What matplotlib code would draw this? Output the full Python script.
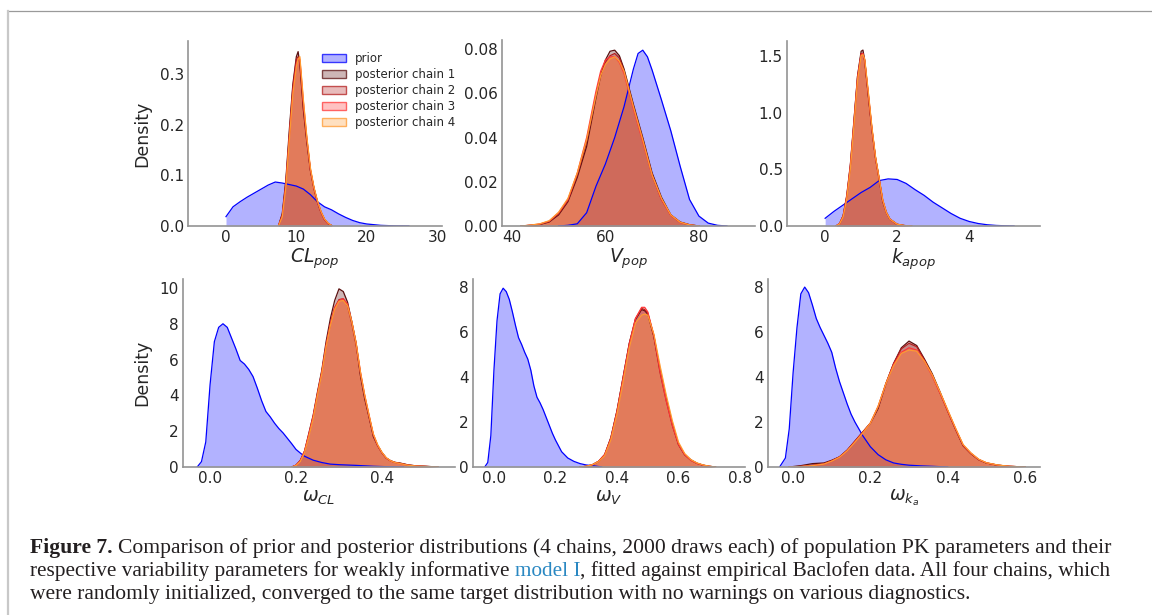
import numpy as np
import matplotlib
matplotlib.use('Agg')
import matplotlib.pyplot as plt
from matplotlib.patches import Patch
from matplotlib.lines import Line2D

W, H = 1152, 615

# --- values (density curves) ---
# CL_pop
cl_prior_x = [0, 1, 2, 3, 4, 5, 6, 7, 8, 9, 10, 11, 12, 13, 14, 15, 16, 17, 18, 19, 20, 22, 24, 26]
cl_prior_y = [.0185, .038, .048, .057, .065, .073, .081, .087, .085, .082, .079, .073, .062, .048,
              .038, .032, .024, .017, .011, .0066, .004, .0013, .0003, 0]
cl_post_x = [7.5, 8, 8.5, 9, 9.5, 10, 10.25, 10.5, 11, 11.5, 12, 12.5, 13, 13.5, 14, 14.5, 15]
cl_ch1 = [.002, .025, .09, .19, .28, .335, .345, .32, .23, .165, .11, .075, .048, .028, .013, .005, .001]
cl_ch2 = [.002, .022, .085, .18, .275, .33, .335, .325, .235, .17, .11, .074, .047, .027, .013, .005, .001]
cl_ch3 = [.002, .02, .08, .175, .265, .32, .33, .33, .245, .172, .112, .075, .048, .028, .013, .005, .001]
cl_ch4 = [.001, .018, .075, .17, .26, .315, .33, .335, .25, .175, .115, .077, .05, .029, .014, .006, .001]

# V_pop
v_prior_x = [50, 52, 54, 56, 58, 60, 62, 64, 66, 67, 68, 69, 70, 72, 74, 76, 78, 80, 82, 84, 86]
v_prior_y = [0, .0003, .001, .006, .018, .028, .040, .054, .071, .078, .0795, .0765, .0705, .057,
             .043, .027, .012, .0045, .0013, .0003, 0]
v_post_x = [42, 44, 46, 48, 50, 52, 54, 56, 58, 59, 60, 61, 62, 63, 64, 65, 66, 68, 70, 72, 74, 76, 78, 80]
v_ch1 = [0, .0003, .0007, .0018, .005, .011, .022, .036, .058, .068, .075, .079, .0795, .077, .071,
         .063, .055, .040, .024, .013, .005, .0018, .0006, 0]
v_ch2 = [0, .0003, .0008, .002, .0055, .0115, .023, .038, .059, .068, .074, .077, .078, .076, .070,
         .062, .054, .039, .023, .012, .005, .0017, .0005, 0]
v_ch3 = [0, .0004, .0009, .0022, .006, .012, .024, .040, .061, .070, .075, .0765, .0765, .074, .069,
         .061, .053, .038, .023, .012, .0048, .0016, .0005, 0]
v_ch4 = [0, .0004, .001, .0024, .0062, .0125, .024, .039, .059, .068, .073, .0755, .0765, .0745, .070,
         .062, .054, .039, .023, .0125, .005, .0017, .0005, 0]

# k_a_pop
ka_prior_x = [0, .25, .5, .75, 1, 1.25, 1.5, 1.75, 2, 2.25, 2.5, 2.75, 3, 3.25, 3.5, 3.75, 4, 4.25,
              4.5, 4.75, 5, 5.25]
ka_prior_y = [.068, .13, .185, .24, .295, .34, .40, .415, .41, .375, .32, .27, .21, .16, .11, .068,
              .04, .022, .011, .005, .002, 0]
ka_post_x = [.3, .4, .5, .6, .7, .8, .9, 1.0, 1.05, 1.1, 1.2, 1.3, 1.4, 1.5, 1.6, 1.7, 1.8, 2.0, 2.2, 2.4]
ka_ch1 = [0, .02, .09, .26, .53, .92, 1.32, 1.54, 1.55, 1.46, 1.15, .85, .6, .42, .22, .12, .06, .015, .004, 0]
ka_ch2 = [0, .02, .09, .27, .54, .93, 1.32, 1.52, 1.52, 1.45, 1.15, .85, .6, .41, .22, .12, .06, .015, .004, 0]
ka_ch3 = [0, .02, .085, .25, .52, .9, 1.3, 1.51, 1.52, 1.46, 1.17, .86, .6, .42, .23, .12, .06, .015, .004, 0]
ka_ch4 = [0, .018, .08, .24, .5, .88, 1.28, 1.5, 1.51, 1.47, 1.18, .87, .61, .42, .23, .12, .06, .016, .004, 0]

# omega_CL
wcl_prior_x = [-.03, -.02, -.01, 0, .01, .02, .03, .04, .05, .06, .07, .08, .09, .10, .11, .12, .13,
               .14, .15, .16, .17, .18, .19, .20, .21, .22, .24, .26, .28, .30, .34, .38, .42, .45]
wcl_prior_y = [0, .3, 1.4, 4.6, 7.0, 7.8, 8.0, 7.8, 7.2, 6.6, 5.95, 5.75, 5.45, 5.05, 4.4, 3.7, 3.1,
               2.8, 2.45, 2.15, 1.9, 1.6, 1.3, .98, .78, .6, .38, .25, .16, .13, .09, .04, .01, 0]
wcl_post_x = [.19, .20, .21, .22, .23, .24, .25, .26, .27, .28, .29, .30, .31, .32, .33, .34, .35,
              .36, .37, .38, .39, .40, .41, .42, .43, .44, .45, .46, .48, .50, .53]
wcl_ch1 = [0, .1, .37, .9, 1.9, 2.9, 4.2, 5.4, 7.0, 8.3, 9.3, 9.95, 9.8, 9.2, 8.1, 6.9, 5.1, 3.8,
           2.8, 1.7, 1.2, .8, .5, .35, .26, .23, .18, .12, .06, .04, 0]
wcl_ch2 = [0, .1, .35, .85, 1.8, 2.8, 4.1, 5.3, 6.8, 8.0, 8.9, 9.35, 9.4, 9.0, 8.0, 6.8, 5.2, 3.9,
           2.8, 1.8, 1.2, .8, .5, .35, .26, .22, .17, .12, .06, .04, 0]
wcl_ch3 = [0, .1, .36, .9, 1.85, 2.85, 4.1, 5.3, 6.8, 8.0, 8.9, 9.3, 9.4, 9.1, 8.1, 6.9, 5.3, 4.0,
           2.9, 1.8, 1.2, .8, .5, .34, .25, .2, .15, .1, .05, .03, 0]
wcl_ch4 = [0, .08, .3, .8, 1.7, 2.7, 4.0, 5.2, 6.7, 7.9, 8.8, 9.25, 9.3, 9.0, 8.1, 6.9, 5.3, 4.0,
           2.9, 1.85, 1.25, .82, .52, .35, .25, .2, .15, .1, .05, .03, 0]

# omega_V
wv_prior_x = [-.03, -.02, -.01, 0, .01, .02, .03, .04, .05, .06, .07, .08, .09, .10, .11, .12, .13,
              .14, .15, .16, .17, .18, .19, .20, .22, .24, .26, .28, .30, .32, .35]
wv_prior_y = [0, .2, 1.4, 4.3, 6.5, 7.7, 7.95, 7.8, 7.45, 6.9, 6.3, 5.75, 5.45, 5.1, 4.8, 4.3, 3.6,
              3.1, 2.85, 2.55, 2.2, 1.85, 1.5, 1.2, .68, .4, .25, .15, .09, .06, 0]
wv_post_x = [.28, .30, .32, .34, .36, .38, .40, .42, .44, .46, .48, .49, .50, .52, .54, .56, .58,
             .60, .62, .64, .66, .68, .70, .72]
wv_ch1 = [0, .03, .1, .25, .55, 1.3, 2.5, 4.0, 5.5, 6.55, 7.0, 6.95, 6.8, 5.8, 4.3, 3.05, 1.9, 1.0,
          .55, .32, .17, .08, .03, 0]
wv_ch2 = [0, .03, .1, .25, .55, 1.3, 2.5, 4.0, 5.5, 6.6, 7.05, 7.0, 6.85, 5.8, 4.2, 2.95, 1.85, 1.0,
          .55, .3, .16, .08, .03, 0]
wv_ch3 = [0, .03, .1, .25, .55, 1.25, 2.45, 3.95, 5.45, 6.6, 7.1, 7.1, 6.9, 5.85, 4.25, 2.95, 1.85,
          1.0, .55, .3, .16, .08, .03, 0]
wv_ch4 = [0, .03, .1, .24, .5, 1.2, 2.35, 3.8, 5.3, 6.4, 6.75, 6.8, 6.75, 5.9, 4.5, 3.2, 2.05, 1.1,
          .6, .33, .18, .09, .035, 0]

# omega_ka
wka_prior_x = [-.035, -.02, -.01, 0, .01, .02, .03, .04, .05, .06, .07, .08, .09, .10, .11, .12, .13,
               .14, .15, .16, .17, .18, .19, .20, .22, .24, .26, .28, .30, .33, .36, .40]
wka_prior_y = [0, .4, 1.7, 4.2, 6.2, 7.7, 8.0, 7.75, 7.2, 6.6, 6.2, 5.85, 5.5, 5.1, 4.4, 3.8, 3.3,
               2.8, 2.35, 2.0, 1.7, 1.4, 1.15, .9, .55, .32, .18, .12, .08, .05, .03, 0]
wka_post_x = [-.01, .02, .05, .08, .10, .12, .14, .16, .18, .20, .22, .24, .26, .28, .30, .32, .34,
              .36, .38, .40, .42, .44, .46, .48, .50, .53, .56, .60]
wka_ch1 = [0, .06, .15, .18, .3, .45, .75, 1.15, 1.55, 1.95, 2.6, 3.7, 4.6, 5.3, 5.6, 5.4, 4.8, 4.15,
           3.35, 2.5, 1.7, .95, .6, .33, .18, .08, .03, 0]
wka_ch2 = [0, .03, .08, .15, .28, .45, .75, 1.15, 1.55, 1.95, 2.65, 3.7, 4.6, 5.25, 5.5, 5.35, 4.75,
           4.1, 3.3, 2.5, 1.7, .95, .6, .33, .18, .08, .03, 0]
wka_ch3 = [0, .02, .06, .13, .26, .43, .72, 1.12, 1.52, 1.95, 2.7, 3.7, 4.55, 5.1, 5.3, 5.2, 4.7,
           4.05, 3.3, 2.5, 1.72, .98, .62, .34, .19, .08, .03, 0]
wka_ch4 = [0, .02, .06, .13, .26, .43, .72, 1.1, 1.5, 1.95, 2.7, 3.7, 4.5, 5.05, 5.2, 5.15, 4.7,
           4.1, 3.35, 2.55, 1.75, 1.0, .63, .35, .19, .09, .03, 0]

labels = ['prior', 'posterior chain 1', 'posterior chain 2', 'posterior chain 3', 'posterior chain 4']
colors = ['#0000ff', '#5a1010', '#b41e1e', '#ff3838', '#ff9a30']
xlabels = ['$CL_{pop}$', '$V_{pop}$', '$k_{apop}$', r'$\omega_{CL}$', r'$\omega_V$', r'$\omega_{k_a}$']

panels = [
    (cl_prior_x, cl_prior_y, cl_post_x, [cl_ch1, cl_ch2, cl_ch3, cl_ch4]),
    (v_prior_x, v_prior_y, v_post_x, [v_ch1, v_ch2, v_ch3, v_ch4]),
    (ka_prior_x, ka_prior_y, ka_post_x, [ka_ch1, ka_ch2, ka_ch3, ka_ch4]),
    (wcl_prior_x, wcl_prior_y, wcl_post_x, [wcl_ch1, wcl_ch2, wcl_ch3, wcl_ch4]),
    (wv_prior_x, wv_prior_y, wv_post_x, [wv_ch1, wv_ch2, wv_ch3, wv_ch4]),
    (wka_prior_x, wka_prior_y, wka_post_x, [wka_ch1, wka_ch2, wka_ch3, wka_ch4]),
]

# axes boxes in pixels: left, right, top, bottom
boxes = [(188, 442, 41, 226), (502, 755, 40, 226), (787, 1040, 41, 226),
         (183, 455, 279, 467), (473, 745, 279, 467), (768, 1040, 279, 467)]
xlims = [(-5.4, 30.7), (37.9, 92), (-1.06, 5.97), (-0.063, 0.57), (-0.068, 0.816), (-0.065, 0.639)]
ylims = [(0, 0.366), (0, 0.0841), (0, 1.63), (0, 10.5), (0, 8.36), (0, 8.36)]
xticks = [[0, 10, 20, 30], [40, 60, 80], [0, 2, 4], [0, .2, .4], [0, .2, .4, .6, .8], [0, .2, .4, .6]]
yticks = [[0, .1, .2, .3], [0, .02, .04, .06, .08], [0, .5, 1, 1.5],
          [0, 2, 4, 6, 8, 10], [0, 2, 4, 6, 8], [0, 2, 4, 6, 8]]
xfmt = ['%d', '%d', '%d', '%.1f', '%.1f', '%.1f']
yfmt = ['%.1f', '%.2f', '%.1f', '%d', '%d', '%d']

fig = plt.figure(figsize=(W / 100, H / 100), dpi=100)
txt = '#262626'

for i, (px, py, qx, chains) in enumerate(panels):
    l, r, t, b = boxes[i]
    ax = fig.add_axes([l / W, 1 - b / H, (r - l) / W, (b - t) / H])
    ax.fill_between(px, py, color=colors[0], alpha=0.3, lw=0)
    ax.plot(px, py, color=colors[0], lw=0.9)
    for c, ch in zip(colors[1:], chains):
        ax.fill_between(qx, ch, color=c, alpha=0.3, lw=0)
        ax.plot(qx, ch, color=c, lw=0.9)
    ax.set_xlim(xlims[i])
    ax.set_ylim(ylims[i])
    ax.set_xticks(xticks[i])
    ax.set_xticklabels([xfmt[i] % v for v in xticks[i]])
    ax.set_yticks(yticks[i])
    ax.set_yticklabels([yfmt[i] % v for v in yticks[i]])
    ax.tick_params(length=0, pad=3, labelsize=11, colors=txt)
    for s in ['top', 'right']:
        ax.spines[s].set_visible(False)
    for s in ['left', 'bottom']:
        ax.spines[s].set_color('#949494')
        ax.spines[s].set_linewidth(1.2)
    ax.set_xlabel(xlabels[i], fontsize=13.5, color=txt, labelpad=1)
    if i in (0, 3):
        ax.set_ylabel('Density', fontsize=12.5, color=txt, labelpad=6)
    if i == 0:
        handles = [Patch(facecolor=(matplotlib.colors.to_rgba(c, 0.3)),
                         edgecolor=matplotlib.colors.to_rgba(c, 0.75), lw=1.0) for c in colors]
        ax.legend(handles, labels, loc='upper left', bbox_to_anchor=(0.51, 0.966),
                  frameon=False, fontsize=8.5, borderaxespad=0, labelspacing=0.25,
                  labelcolor=txt)

# page frame lines
fig.add_artist(Line2D([8 / W, 1], [1 - 11 / H, 1 - 11 / H], color='#9a9a9a', lw=0.9,
                      transform=fig.transFigure))
fig.add_artist(Line2D([7.5 / W, 7.5 / W], [0, 1 - 11 / H], color='#c8c8c8', lw=1.6,
                      transform=fig.transFigure))

# caption
renderer = fig.canvas.get_renderer()
serif = 'Liberation Serif'
ink = '#231f20'
link = '#2a88c2'


def width_of(s, size, weight='normal'):
    t = fig.text(0, 0, s, fontsize=size, family=serif, weight=weight)
    w = t.get_window_extent(renderer).width
    t.remove()
    return w


def runs_width(runs, size):
    gap = width_of('a a', size) - width_of('aa', size)
    return sum(width_of(s, size, kw.get('weight', 'normal')) + sp * gap for s, kw, sp in runs)


def put_runs(x_px, y_px, runs, target):
    size = 12.0 * target / runs_width(runs, 12.0)
    gap = width_of('a a', size) - width_of('aa', size)
    x = x_px
    for s, kw, sp in runs:
        x += sp * gap
        t = fig.text(x / W, 1 - y_px / H, s, fontsize=size, family=serif, va='baseline', **kw)
        x += t.get_window_extent(renderer).width


cap1 = [('Figure 7.', dict(weight='bold', color=ink), 0),
        ('Comparison of prior and posterior distributions (4 chains, 2000 draws each) of population PK parameters and their',
         dict(color=ink), 1)]
cap2 = [('respective variability parameters for weakly informative', dict(color=ink), 0),
        ('model I', dict(color=link), 1),
        (', fitted against empirical Baclofen data. All four chains, which', dict(color=ink), 0)]
cap3 = [('were randomly initialized, converged to the same target distribution with no warnings on various diagnostics.',
         dict(color=ink), 0)]

put_runs(30, 553, cap1, 1077)
put_runs(30, 576, cap2, 1077)
put_runs(30, 599, cap3, 938)

fig.savefig('out.png', dpi=100)
